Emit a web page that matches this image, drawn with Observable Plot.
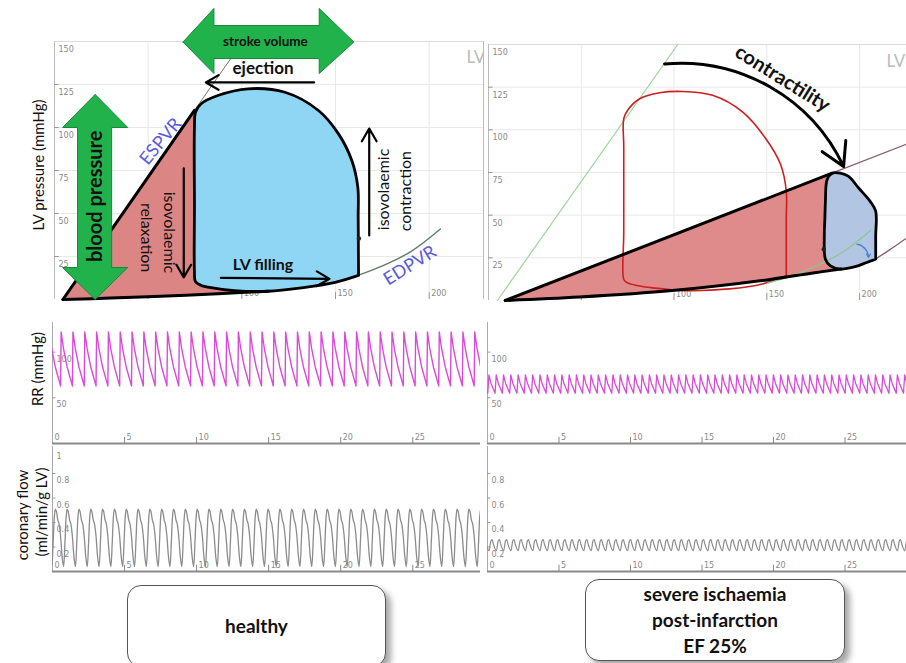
<!DOCTYPE html>
<html><head><meta charset="utf-8">
<script src="https://cdn.jsdelivr.net/npm/d3@7"></script>
<script src="https://cdn.jsdelivr.net/npm/@observablehq/plot@0.6"></script>
<style>
body{margin:0;background:#fff;}
#root{position:relative;width:906px;height:663px;overflow:hidden;background:#fff;font-family:Lato,"Open Sans",sans-serif;}
.ytitle{position:absolute;transform:translate(-50%,-50%) rotate(-90deg);white-space:nowrap;font-size:15px;color:#111;}
.box{position:absolute;border:1.3px solid #555;border-radius:14px;background:#fff;box-shadow:5px 5px 6px rgba(0,0,0,0.35);display:flex;align-items:center;justify-content:center;text-align:center;font-family:Lato,"Open Sans",sans-serif;font-weight:bold;font-size:19px;line-height:26px;color:#111;box-sizing:border-box;}
</style></head><body><div id="root"></div>
<script>
// ================= DATA =================
// LV pressure–volume panels: volume (mL) / pressure (mmHg)
const lvVolTicks = [50, 100, 150, 200];
const lvPresTicks = [25, 50, 75, 100, 125, 150];

// healthy loop
const healthyLoopV = [162.3, 162.2, 162.1, 161.9, 158.7, 151.6, 140.9, 123, 103.3, 87.2, 78.3, 75.3, 74.7, 74.7, 74.7, 75.2, 78, 81.9, 96.1, 114, 131.9, 149.8, 162.3];
const healthyLoopP = [14, 30, 48, 65.3, 80.8, 96.3, 109.9, 120.5, 122.5, 118.6, 113.8, 109, 100, 55, 16, 10.5, 8.3, 7.2, 5.2, 4.8, 6.8, 10, 14];
const healthyEspvrV = [4.5, 74.7, 96];
const healthyEspvrP = [0, 110, 143];
const healthyEdpvrV = [4.5, 30, 60, 90, 114, 132, 150, 162, 175, 190, 206];
const healthyEdpvrP = [0, 0.8, 2, 3.5, 4.8, 6.8, 10, 14, 19.5, 27.7, 41];
const healthyAreaV = [4.5, 74.7, 74.7, 81.9, 96.1, 114, 90, 60, 30, 4.5];
const healthyAreaP = [0, 110, 10, 7.2, 5.2, 4.8, 3.5, 2, 0.8, 0];

// ischaemic loop (and healthy reference loop drawn in red)
const refLoopV = [160.5, 160.5, 160.5, 160.5, 157.5, 149.4, 136.9, 120.8, 104.7, 92.2, 81.5, 75.2, 72.9, 72.9, 72.9, 72.9, 74.4, 80, 88.6, 106.5, 129.8, 147.6, 160.5];
const refLoopP = [14.5, 30, 48, 64, 79.5, 94.9, 110.5, 120.2, 122.5, 121.7, 118.2, 111.8, 106.6, 90, 40, 12.4, 10.6, 8.8, 7.4, 5.8, 6.8, 9.7, 14.5];
const refEspvrV = [4.8, 102];
const refEspvrP = [0, 150];
const ischLoopV = [208.7, 208.7, 208.7, 205.7, 199.5, 194.1, 189.6, 185.2, 182.5, 181.6, 181.3, 181, 181.6, 184.3, 189.6, 197.7, 203.9, 208.7];
const ischLoopP = [24.2, 38, 52.3, 58.1, 65.9, 72.7, 74.6, 74.6, 70.8, 58, 48, 38.6, 24.2, 20.3, 18.4, 19.8, 22.3, 24.2];
const ischEspvrV = [9, 185.2, 225.3];
const ischEspvrP = [0, 74.6, 91.6];
const ischEdpvrV = [9, 49, 99, 151, 174, 190, 201, 208.4, 216, 225.3];
const ischEdpvrP = [0, 2, 5.8, 12.2, 16, 18.4, 21.3, 24.2, 29.5, 36.5];
const ischAreaV = [9, 185.2, 182.5, 181.6, 181.3, 181, 181.6, 184.3, 189.6, 174, 151, 99, 49, 9];
const ischAreaP = [0, 74.6, 70.8, 58, 48, 38.6, 24.2, 20.3, 18.4, 16, 12.2, 5.8, 2, 0];

// time traces: one beat, repeated at the heart period
const timeTicks = [0, 5, 10, 15, 20, 25];
const rrTicks = [50, 100];
const flowTicks = [0.2, 0.4, 0.6, 0.8, 1];
const rrHealthyBeatT = [0, 0.04, 0.2, 0.45, 0.82];
const rrHealthyBeatP = [63, 122, 104, 84, 63];
const rrIschBeatT = [0, 0.08, 0.22, 0.51];
const rrIschBeatP = [55, 75, 66, 55];
const flowHealthyBeatT = [0, 0.1, 0.18, 0.25, 0.32, 0.42, 0.5, 0.6, 0.72, 0.82];
const flowHealthyBeatQ = [0.04, 0.25, 0.45, 0.51, 0.49, 0.42, 0.39, 0.3, 0.12, 0.04];
const flowIschBeatT = [0, 0.14, 0.22, 0.32, 0.51];
const flowIschBeatQ = [0.17, 0.25, 0.26, 0.22, 0.17];
const healthyPeriod = 0.82, ischPeriod = 0.51;
const rrHealthyFirstBeat = 0.56, flowHealthyFirstBeat = -0.05;
const rrIschFirstBeat = 0.02, flowIschFirstBeat = 0.1;

// annotations (data units)
const leftArrows = [
  {V1: 138.6, P1: 126.2, V2: 80.8, P2: 126.2},
  {V1: 69, P1: 76.2, V2: 69, P2: 12.8},
  {V1: 168, P1: 37.2, V2: 168, P2: 99.4},
  {V1: 88.8, P1: 12.6, V2: 146.8, P2: 12}
];
const strokeVolArrowV = [68.6, 85.1, 85.1, 141.3, 141.3, 159.8, 141.3, 141.3, 85.1, 85.1, 68.6];
const strokeVolArrowP = [149.7, 169.2, 159.3, 159.3, 169.2, 149.7, 131.4, 140.1, 140.1, 131.4, 149.7];
const bpArrowV = [21.7, 39.1, 30.5, 30.5, 39.1, 21.7, 4.3, 12.3, 12.3, 4.3, 21.7];
const bpArrowP = [119.2, 100, 100, 18.6, 18.6, 0, 18.6, 18.6, 100, 100, 119.2];

// ================= HELPERS =================
const root = document.getElementById("root");
const pts = (V, P) => V.map((v, i) => ({V: v, P: P[i]}));
function tile(beatT, beatV, period, first, tEnd) {
  const rows = [];
  for (let onset = first - period; onset < tEnd; onset += period)
    beatT.slice(0, -1).forEach((bt, i) => rows.push({t: onset + bt, v: beatV[i]}));
  return rows;
}
function place(node, left, top) {
  node.style.position = "absolute"; node.style.left = left + "px"; node.style.top = top + "px";
  root.appendChild(node);
}
const style = {background: "transparent", fontFamily: "Lato, 'Open Sans', sans-serif", fontSize: "10px", overflow: "visible"};
const tickFont = {fontFamily: "DejaVu Sans, sans-serif", fontSize: 8, fill: "#8a8a8a"};
const lbl = (o) => [o];
const green = {fill: "#22b24c", stroke: "#168a3a", strokeWidth: 1};

function lvFrame() {
  return [
    Plot.gridX(lvVolTicks, {stroke: "#e8e8e8", strokeOpacity: 1}),
    Plot.gridY(lvPresTicks, {stroke: "#e8e8e8", strokeOpacity: 1}),
    Plot.ruleY([150], {stroke: "#dcdcdc"}),
    Plot.ruleX([0], {y1: 0, y2: 150, stroke: "#bbb"}),
    Plot.ruleY(lvPresTicks.slice(0, -1), {x1: 0, x2: 2.5, stroke: "#999"}),
    Plot.text(lvPresTicks, {x: 0, y: d => d, text: d => `${d}`, dx: 4, dy: 8, textAnchor: "start", ...tickFont}),
    Plot.ruleX(lvVolTicks, {y1: 0, y2: 4, stroke: "#999"}),
    Plot.text(lvVolTicks, {x: d => d, y: 0, text: d => `${d}`, dx: 2, dy: -6, textAnchor: "start", ...tickFont})
  ];
}

// ================= TOP LEFT: healthy PV loop =================
const lvLeft = Plot.plot({
  width: 483, height: 310, marginLeft: 54, marginRight: 0, marginTop: 41, marginBottom: 11,
  x: {domain: [0, 229], axis: null}, y: {domain: [0, 150], axis: null}, style,
  marks: [
    ...lvFrame(),
    Plot.ruleX([229], {y1: 0, y2: 150, stroke: "#bbb"}),
    Plot.line(pts(healthyAreaV, healthyAreaP), {x: "V", y: "P", fill: "#dc8585", stroke: "none"}),
    Plot.line(pts(healthyEspvrV, healthyEspvrP), {x: "V", y: "P", stroke: "#777", strokeWidth: 1}),
    Plot.line(pts(healthyEdpvrV, healthyEdpvrP), {x: "V", y: "P", stroke: "#5d7d6d", strokeWidth: 1.4, curve: "catmull-rom"}),
    Plot.line(pts(healthyLoopV, healthyLoopP), {x: "V", y: "P", fill: "#8ed6f4", stroke: "#000", strokeWidth: 2.8, curve: "catmull-rom"}),
    Plot.line(pts(healthyEspvrV, healthyEspvrP).slice(0, 2), {x: "V", y: "P", stroke: "#000", strokeWidth: 3}),
    Plot.line(pts(healthyEdpvrV, healthyEdpvrP).filter(d => d.V <= 114), {x: "V", y: "P", stroke: "#000", strokeWidth: 3, curve: "catmull-rom"}),
    Plot.dot(lbl({V: 162.5, P: 35.5}), {x: "V", y: "P", r: 2.2, fill: "#222"}),
    Plot.arrow(leftArrows, {x1: "V1", y1: "P1", x2: "V2", y2: "P2", stroke: "#000", strokeWidth: 2.2, headLength: 10}),
    Plot.text(lbl({V: 111.3, P: 134.3, s: "ejection"}), {x: "V", y: "P", text: "s", fontSize: 17, fontWeight: "bold", fill: "#111"}),
    Plot.text(lbl({V: 111.3, P: 20.3, s: "LV filling"}), {x: "V", y: "P", text: "s", fontSize: 16, fontWeight: "bold", fill: "#111"}),
    Plot.text(lbl({V: 61, P: 39, s: "isovolaemic"}), {x: "V", y: "P", text: "s", fontSize: 16, rotate: 90, fill: "#111"}),
    Plot.text(lbl({V: 48.7, P: 36, s: "relaxation"}), {x: "V", y: "P", text: "s", fontSize: 16, rotate: 90, fill: "#111"}),
    Plot.text(lbl({V: 176, P: 64, s: "isovolaemic"}), {x: "V", y: "P", text: "s", fontSize: 16, rotate: -90, fill: "#111"}),
    Plot.text(lbl({V: 187.8, P: 63, s: "contraction"}), {x: "V", y: "P", text: "s", fontSize: 16, rotate: -90, fill: "#111"}),
    Plot.text(lbl({V: 56.7, P: 91.9, s: "ESPVR"}), {x: "V", y: "P", text: "s", fontSize: 18, rotate: -50, fill: "#5b5be0"}),
    Plot.text(lbl({V: 189.7, P: 19.8, s: "EDPVR"}), {x: "V", y: "P", text: "s", fontSize: 18, rotate: -32, fill: "#5b5be0"}),
    Plot.line(pts(strokeVolArrowV, strokeVolArrowP), {x: "V", y: "P", ...green}),
    Plot.line(pts(bpArrowV, bpArrowP), {x: "V", y: "P", ...green}),
    Plot.text(lbl({V: 112.6, P: 150, s: "stroke volume"}), {x: "V", y: "P", text: "s", fontSize: 13.5, fontWeight: "bold", fill: "#111"}),
    Plot.text(lbl({V: 21.7, P: 60, s: "blood pressure"}), {x: "V", y: "P", text: "s", fontSize: 20, fontWeight: "bold", rotate: -90, fill: "#111"}),
    Plot.text(lbl({V: 219.9, P: 140.7, s: "LV"}), {x: "V", y: "P", text: "s", fontSize: 17, fill: "#bbb", textAnchor: "start", clip: true})
  ]
});
place(lvLeft, 0, 0);

// ================= TOP RIGHT: ischaemic PV loop =================
const lvRight = Plot.plot({
  width: 423, height: 310, marginLeft: 5, marginRight: 0, marginTop: 44, marginBottom: 10,
  x: {domain: [0, 225.3], axis: null}, y: {domain: [0, 150], axis: null}, style,
  marks: [
    ...lvFrame(),
    Plot.line(pts(refEspvrV, refEspvrP), {x: "V", y: "P", stroke: "#9fd89f", strokeWidth: 1.3}),
    Plot.line(pts(ischAreaV, ischAreaP), {x: "V", y: "P", fill: "#df8b8b", stroke: "none", curve: "linear"}),
    Plot.line(pts(refLoopV, refLoopP), {x: "V", y: "P", stroke: "#cc1f1f", strokeWidth: 1.6, curve: "catmull-rom"}),
    Plot.line(pts(ischEspvrV, ischEspvrP).slice(1), {x: "V", y: "P", stroke: "#8a5c72", strokeWidth: 1.3}),
    Plot.line(pts(ischEdpvrV, ischEdpvrP).filter(d => d.V >= 208), {x: "V", y: "P", stroke: "#8a5c72", strokeWidth: 1.3, curve: "catmull-rom"}),
    Plot.line(pts(ischLoopV, ischLoopP), {x: "V", y: "P", fill: "#b2c6e4", stroke: "none", curve: "catmull-rom"}),
    Plot.line(pts(healthyEdpvrV, healthyEdpvrP).filter(d => d.V >= 150), {x: "V", y: "P", stroke: "#8cc88c", strokeWidth: 1.3, curve: "catmull-rom"}),
    Plot.line(pts(ischLoopV, ischLoopP), {x: "V", y: "P", stroke: "#000", strokeWidth: 2.8, curve: "catmull-rom"}),
    Plot.line(pts(ischEspvrV, ischEspvrP).slice(0, 2), {x: "V", y: "P", stroke: "#000", strokeWidth: 3}),
    Plot.line(pts(ischEdpvrV, ischEdpvrP).filter(d => d.V <= 190), {x: "V", y: "P", stroke: "#000", strokeWidth: 3, curve: "catmull-rom"}),
    Plot.dot(lbl({V: 180.7, P: 30}), {x: "V", y: "P", r: 2.2, fill: "#222"}),
    Plot.arrow(lbl({V1: 198.6, P1: 33, V2: 204.8, P2: 25.2}), {x1: "V1", y1: "P1", x2: "V2", y2: "P2", bend: 40, stroke: "#4a7fd0", strokeWidth: 1.2, headLength: 5}),
    Plot.arrow(lbl({V1: 94.9, P1: 138.6, V2: 191.4, P2: 78.5}), {x1: "V1", y1: "P1", x2: "V2", y2: "P2", bend: 35, stroke: "#000", strokeWidth: 3, headLength: 13}),
    Plot.text(lbl({V: 158.5, P: 130, s: "contractility"}), {x: "V", y: "P", text: "s", fontSize: 20, fontWeight: "bold", rotate: 32, fill: "#111"}),
    Plot.text(lbl({V: 214.5, P: 140, s: "LV"}), {x: "V", y: "P", text: "s", fontSize: 17, fill: "#bbb", textAnchor: "start"})
  ]
});
place(lvRight, 483, 0);

// ================= time-trace panels =================
function tracePanel({width, marginLeft, tmax, height, ymax, yTicks, data, stroke, strokeWidth, curve, showTop}) {
  return Plot.plot({
    width, height, marginLeft, marginRight: 0, marginTop: 0, marginBottom: 5,
    x: {domain: [0, tmax], axis: null}, y: {domain: [0, ymax], axis: null}, style,
    marks: [
      Plot.ruleX([0], {y1: 0, y2: ymax, stroke: "#aaa"}),
      Plot.ruleY(yTicks.filter(d => d < ymax * 0.97), {x1: 0, x2: tmax * 0.008, stroke: "#999"}),
      Plot.text(yTicks.filter(showTop), {x: 0, y: d => d, text: d => `${d}`, dx: 4, dy: 7, textAnchor: "start", ...tickFont}),
      Plot.ruleX(timeTicks.slice(1), {y1: 0, y2: ymax * 0.05, stroke: "#888"}),
      Plot.text(timeTicks, {x: d => d, y: 0, text: d => `${d}`, dx: 2, dy: -6, textAnchor: "start", ...tickFont}),
      Plot.line(data, {x: "t", y: "v", stroke, strokeWidth, clip: true, curve}),
      Plot.ruleY([0], {stroke: "#8a8a8a", strokeWidth: 2})
    ]
  });
}
place(tracePanel({width: 480, marginLeft: 52, tmax: 29.7, height: 126, ymax: 132.4, yTicks: rrTicks, showTop: () => true, curve: "linear",
  data: tile(rrHealthyBeatT, rrHealthyBeatP, healthyPeriod, rrHealthyFirstBeat, 30), stroke: "#d94bd9", strokeWidth: 1.4}), 0, 322);
place(tracePanel({width: 423, marginLeft: 4, tmax: 29.3, height: 126, ymax: 132.4, yTicks: rrTicks, showTop: () => true, curve: "linear",
  data: tile(rrIschBeatT, rrIschBeatP, ischPeriod, rrIschFirstBeat, 30), stroke: "#d94bd9", strokeWidth: 1.3}), 483, 322);
place(tracePanel({width: 480, marginLeft: 52, tmax: 29.7, height: 130, ymax: 1.0204, yTicks: flowTicks, showTop: () => true, curve: "catmull-rom",
  data: tile(flowHealthyBeatT, flowHealthyBeatQ, healthyPeriod, flowHealthyFirstBeat, 30), stroke: "#8c8c8c", strokeWidth: 1.3}), 0, 446);
place(tracePanel({width: 423, marginLeft: 4, tmax: 29.3, height: 130, ymax: 1.0204, yTicks: flowTicks, showTop: d => d < 1, curve: "catmull-rom",
  data: tile(flowIschBeatT, flowIschBeatQ, ischPeriod, flowIschFirstBeat, 30), stroke: "#8c8c8c", strokeWidth: 1.2}), 483, 446);

// ================= titles & boxes =================
function title(text, cx, cy) {
  const d = document.createElement("div"); d.className = "ytitle"; d.textContent = text;
  d.style.left = cx + "px"; d.style.top = cy + "px"; root.appendChild(d);
}
title("LV pressure (mmHg)", 38, 165);
title("RR (mmHg)", 37, 369);
title("coronary flow", 22, 515);
title("(ml/min/g LV)", 41, 512);
const boxLabelsHealthy = ["healthy"];
const boxLabelsIsch = ["severe ischaemia", "post-infarction", "EF 25%"];
(function () {
  const a = document.createElement("div"); a.className = "box";
  Object.assign(a.style, {left: "127px", top: "585px", width: "259px", height: "82px"});
  a.textContent = boxLabelsHealthy[0]; root.appendChild(a);
  const b = document.createElement("div"); b.className = "box";
  Object.assign(b.style, {left: "585px", top: "579px", width: "260px", height: "82px", flexDirection: "column"});
  boxLabelsIsch.forEach(s => { const l = document.createElement("div"); l.textContent = s; b.appendChild(l); });
  root.appendChild(b);
})();
</script></body></html>
